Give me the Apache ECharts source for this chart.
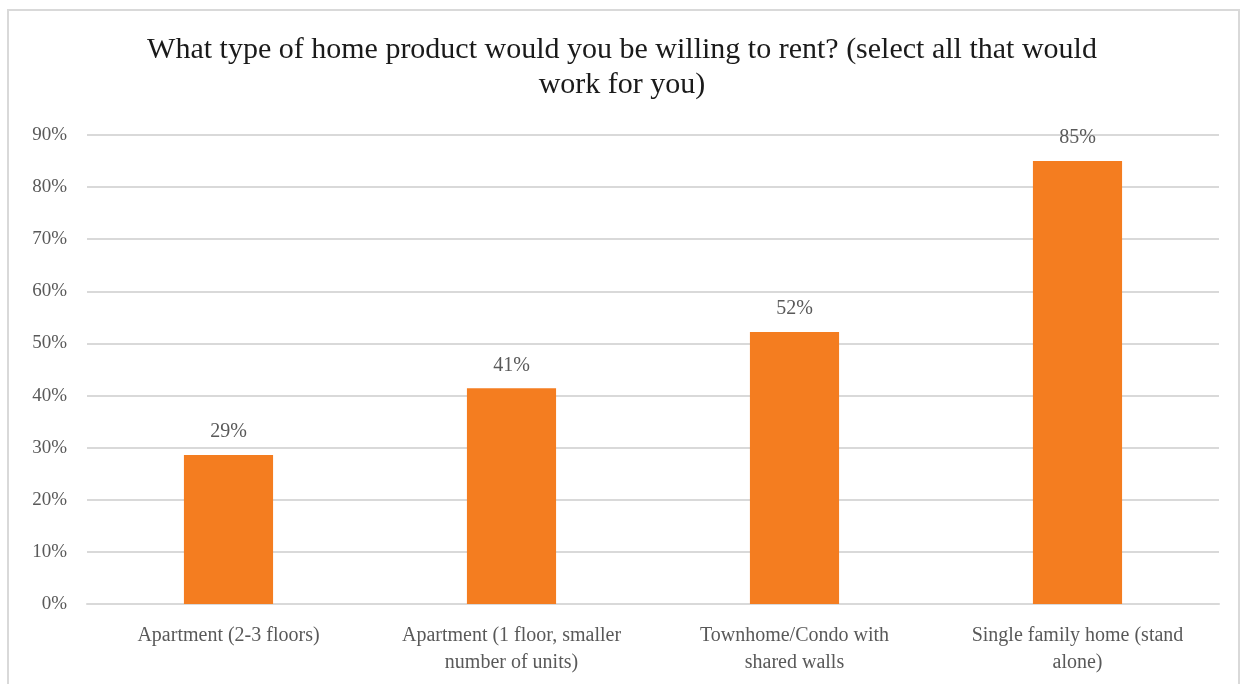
<!DOCTYPE html>
<html>
<head>
<meta charset="utf-8">
<script src="https://cdn.jsdelivr.net/npm/echarts@6/dist/echarts.min.js"></script>
<style>
html,body{margin:0;padding:0;background:#fff;}
#frame{position:absolute;left:7px;top:9px;width:1233px;height:690px;border:2px solid #d9d9d9;box-sizing:border-box;}
#chart{position:absolute;left:0;top:0;width:1244px;height:684px;}
</style>
</head>
<body>
<div id="frame"></div>
<div id="chart"></div>
<script>
const titleText = 'What type of home product would you be willing to rent? (select all that would\nwork for you)';
const categories = [
  'Apartment (2-3 floors)',
  'Apartment (1 floor, smaller\nnumber of units)',
  'Townhome/Condo with\nshared walls',
  'Single family home (stand\nalone)'
];
const values = [0.286, 0.414, 0.522, 0.85];
const yTicks = [0, 0.1, 0.2, 0.3, 0.4, 0.5, 0.6, 0.7, 0.8, 0.9];

const font = '"Liberation Serif", "DejaVu Serif", serif';
const chart = echarts.init(document.getElementById('chart'));
chart.setOption({
  animation: false,
  title: {
    text: titleText,
    left: 'center',
    top: 28,
    textStyle: {fontFamily: font, fontSize: 30, fontWeight: 'normal', color: '#1a1a1a', lineHeight: 35}
  },
  grid: {left: 87, right: 25, top: 135, bottom: 80},
  xAxis: {
    type: 'category',
    data: categories,
    axisLine: {show: true, lineStyle: {color: '#d9d9d9', width: 2}},
    axisTick: {show: false},
    axisLabel: {fontFamily: font, fontSize: 20, color: '#595959', margin: 18, lineHeight: 27, interval: 0}
  },
  yAxis: {
    type: 'value',
    min: yTicks[0],
    max: yTicks[yTicks.length - 1],
    interval: 0.1,
    axisLine: {show: false},
    axisTick: {show: false},
    splitLine: {lineStyle: {color: '#d9d9d9', width: 2}},
    axisLabel: {
      fontFamily: font, fontSize: 19, color: '#595959', margin: 20,
      formatter: v => Math.round(v * 100) + '%'
    }
  },
  series: [{
    type: 'bar',
    data: values,
    barWidth: '31.5%',
    itemStyle: {color: '#F47D20'},
    label: {
      show: true,
      position: 'top',
      distance: 13,
      fontFamily: font, fontSize: 20, color: '#595959',
      formatter: p => Math.round(p.value * 100) + '%'
    }
  }]
});
</script>
</body>
</html>
